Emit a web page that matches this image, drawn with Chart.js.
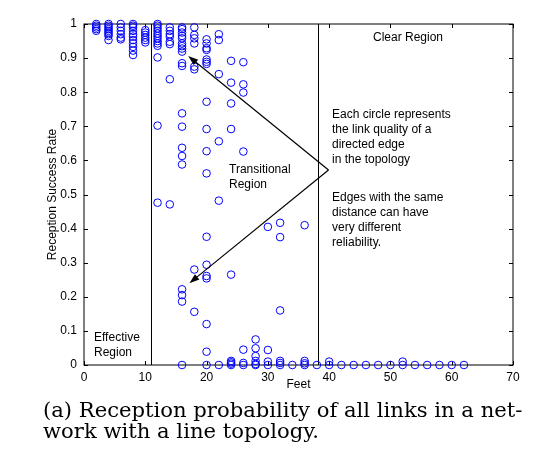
<!DOCTYPE html>
<html>
<head>
<meta charset="utf-8">
<script src="https://cdn.jsdelivr.net/npm/chart.js@4/dist/chart.umd.min.js"></script>
<style>
  body { margin: 0; background: #fff; }
  #wrap { position: relative; width: 546px; height: 452px; }
  #linkPlot { position: absolute; left: 0; top: 0; }
  .caption {
    position: absolute; left: 43px; white-space: nowrap;
    font-family: "DejaVu Serif", "Liberation Serif", serif;
    font-size: 18px; line-height: 18px; color: #000;
  }
</style>
</head>
<body>
<div id="wrap">
  <canvas id="linkPlot" width="546" height="452"></canvas>
  <div class="caption" id="cap1" style="top:402px">(a) Reception probability of all links in a net-</div>
  <div class="caption" id="cap2" style="top:423px">work with a line topology.</div>
</div>
<script>
// distance between nodes (feet) and measured success rates of the links at that distance
const distances = [2, 4, 6, 8, 10, 12, 14, 16, 18, 20, 22, 24, 26, 28, 30, 32, 34, 36, 38,
                   40, 42, 44, 46, 48, 50, 52, 54, 56, 58, 60, 62];
const ratesByDistance = [
    [1.0, 0.995, 0.99, 0.985, 0.98],
    [1.0, 0.995, 0.99, 0.985, 0.98, 0.975, 0.97, 0.965, 0.953],
    [1.0, 0.99, 0.98, 0.97, 0.96, 0.955],
    [1.0, 0.995, 0.99, 0.98, 0.97, 0.963, 0.953, 0.943, 0.933, 0.922, 0.909],
    [0.982, 0.975, 0.968, 0.96, 0.953, 0.946],
    [1.0, 0.995, 0.987, 0.98, 0.972, 0.965, 0.958, 0.95, 0.943, 0.936, 0.902, 0.702, 0.476],
    [0.99, 0.98, 0.97, 0.963, 0.948, 0.941, 0.838, 0.471],
    [0.99, 0.985, 0.975, 0.965, 0.958, 0.943, 0.935, 0.928, 0.919, 0.885, 0.877, 0.738, 0.699,
     0.637, 0.613, 0.588, 0.222, 0.205, 0.186, 0],
    [0.99, 0.968, 0.958, 0.943, 0.875, 0.867, 0.28, 0.156],
    [0.955, 0.943, 0.929, 0.924, 0.896, 0.889, 0.883, 0.772, 0.692, 0.627, 0.562, 0.376, 0.294,
     0.261, 0.254, 0.12, 0.039, 0],
    [0.97, 0.953, 0.853, 0.656, 0.482, 0],
    [0.892, 0.828, 0.767, 0.692, 0.265, 0.012, 0.008, 0.004, 0],
    [0.888, 0.823, 0.799, 0.626, 0.045, 0.006, 0],
    [0.075, 0.049, 0.026, 0.012, 0.003, 0],
    [0.405, 0.044, 0.01, 0],
    [0.417, 0.375, 0.16, 0.012, 0.006, 0],
    [0],
    [0.41, 0.012, 0.005, 0],
    [0],
    [0.01, 0], [0], [0], [0], [0], [0],
    [0.01, 0], [0], [0], [0], [0], [0]
];
const xTicks = [0, 10, 20, 30, 40, 50, 60, 70];
const yTicks = [0, 0.1, 0.2, 0.3, 0.4, 0.5, 0.6, 0.7, 0.8, 0.9, 1];
const yTickLabels = ['0', '0.1', '0.2', '0.3', '0.4', '0.5', '0.6', '0.7', '0.8', '0.9', '1'];

// region borders and annotation arrows, in data units
const regionBounds = [11, 38.25];
const arrowFrom = { x: 39.9, y: 0.572 };
const arrowTips = [{ x: 17.0, y: 0.906 }, { x: 17.2, y: 0.24 }];

const points = [];
distances.forEach((d, i) => {
    ratesByDistance[i].forEach(r => points.push({ x: d, y: r }));
});

Chart.defaults.font.family = '"Liberation Sans", Arial, sans-serif';
Chart.defaults.font.size = 12;
Chart.defaults.color = '#000';

const overlay = {
    id: 'overlay',
    beforeDatasetsDraw(chart) {
        const { ctx, chartArea: a, scales: { x, y } } = chart;
        ctx.save();
        ctx.strokeStyle = '#000';
        ctx.lineWidth = 1;
        // frame
        ctx.strokeRect(a.left, a.top, a.right - a.left, a.bottom - a.top);
        // inward ticks
        ctx.beginPath();
        xTicks.forEach(v => {
            const px = Math.round(x.getPixelForValue(v)) + 0.5;
            ctx.moveTo(px, a.bottom); ctx.lineTo(px, a.bottom - 4);
            ctx.moveTo(px, a.top); ctx.lineTo(px, a.top + 4);
        });
        yTicks.forEach(v => {
            const py = Math.round(y.getPixelForValue(v)) + 0.5;
            ctx.moveTo(a.left, py); ctx.lineTo(a.left + 4, py);
            ctx.moveTo(a.right, py); ctx.lineTo(a.right - 4, py);
        });
        ctx.stroke();
        // region borders
        ctx.beginPath();
        regionBounds.forEach(v => {
            const px = Math.round(x.getPixelForValue(v)) + 0.5;
            ctx.moveTo(px, a.top); ctx.lineTo(px, a.bottom);
        });
        ctx.stroke();
        ctx.restore();
    },
    afterDraw(chart) {
        const { ctx, scales: { x, y } } = chart;
        ctx.save();
        ctx.strokeStyle = '#000';
        ctx.fillStyle = '#000';
        ctx.lineWidth = 1.2;
        const fx = x.getPixelForValue(arrowFrom.x), fy = y.getPixelForValue(arrowFrom.y);
        arrowTips.forEach(t => {
            const tx = x.getPixelForValue(t.x), ty = y.getPixelForValue(t.y);
            const ang = Math.atan2(ty - fy, tx - fx);
            ctx.beginPath();
            ctx.moveTo(fx, fy); ctx.lineTo(tx - 6 * Math.cos(ang), ty - 6 * Math.sin(ang));
            ctx.stroke();
            ctx.beginPath();
            ctx.moveTo(tx, ty);
            ctx.lineTo(tx - 10 * Math.cos(ang) + 3.5 * Math.sin(ang), ty - 10 * Math.sin(ang) - 3.5 * Math.cos(ang));
            ctx.lineTo(tx - 10 * Math.cos(ang) - 3.5 * Math.sin(ang), ty - 10 * Math.sin(ang) + 3.5 * Math.cos(ang));
            ctx.closePath();
            ctx.fill();
        });

        // region labels and notes
        ctx.font = '12px "Liberation Sans", Arial, sans-serif';
        ctx.textBaseline = 'middle';
        ctx.textAlign = 'center';
        ctx.fillText('Clear Region', 408, 38);
        ctx.textAlign = 'left';
        ctx.fillText('Transitional', 229, 170);
        ctx.fillText('Region', 229, 185);
        ctx.fillText('Effective', 94, 338);
        ctx.fillText('Region', 94, 353);
        const notes = [['Each circle represents', 115], ['the link quality of a', 130],
                       ['directed edge', 145], ['in the topology', 160],
                       ['Edges with the same', 198], ['distance can have', 213],
                       ['very different', 228], ['reliability.', 243]];
        notes.forEach(n => ctx.fillText(n[0], 332, n[1]));
        ctx.restore();
    }
};

new Chart(document.getElementById('linkPlot'), {
    type: 'scatter',
    data: {
        datasets: [{
            data: points,
            pointStyle: 'circle',
            pointRadius: 3.8,
            pointBorderWidth: 1,
            borderColor: '#0000ff',
            backgroundColor: 'rgba(0,0,0,0)',
            clip: false
        }]
    },
    options: {
        responsive: false,
        animation: false,
        layout: { padding: { left: 0, right: 33, top: 24, bottom: 0 } },
        plugins: { legend: { display: false }, tooltip: { enabled: false } },
        scales: {
            x: {
                type: 'linear', min: 0, max: 70,
                afterFit: s => { s.height = 87; },
                afterBuildTicks: s => { s.ticks = xTicks.map(v => ({ value: v })); },
                grid: { display: false, drawTicks: false },
                border: { display: false },
                ticks: { padding: 5, maxRotation: 0, callback: v => String(v) },
                title: { display: true, text: 'Feet', padding: { top: 0, bottom: 60 } }
            },
            y: {
                type: 'linear', min: 0, max: 1,
                afterFit: s => { s.width = 84; },
                afterBuildTicks: s => { s.ticks = yTicks.map(v => ({ value: v })); },
                grid: { display: false, drawTicks: false },
                border: { display: false },
                ticks: { padding: 7, callback: (v, i) => yTickLabels[i] },
                title: { display: true, text: 'Reception Success Rate', padding: { top: 45, bottom: 0 } }
            }
        }
    },
    plugins: [overlay]
});

// fit the caption to the printed width by font size
const cap1 = document.getElementById('cap1'), cap2 = document.getElementById('cap2');
const size = 18 * 479 / cap1.offsetWidth;
[cap1, cap2].forEach(c => { c.style.fontSize = size + 'px'; c.style.lineHeight = size + 'px'; });
cap1.style.top = (417 - size * 0.86) + 'px';
cap2.style.top = (438.5 - size * 0.86) + 'px';
</script>
</body>
</html>
